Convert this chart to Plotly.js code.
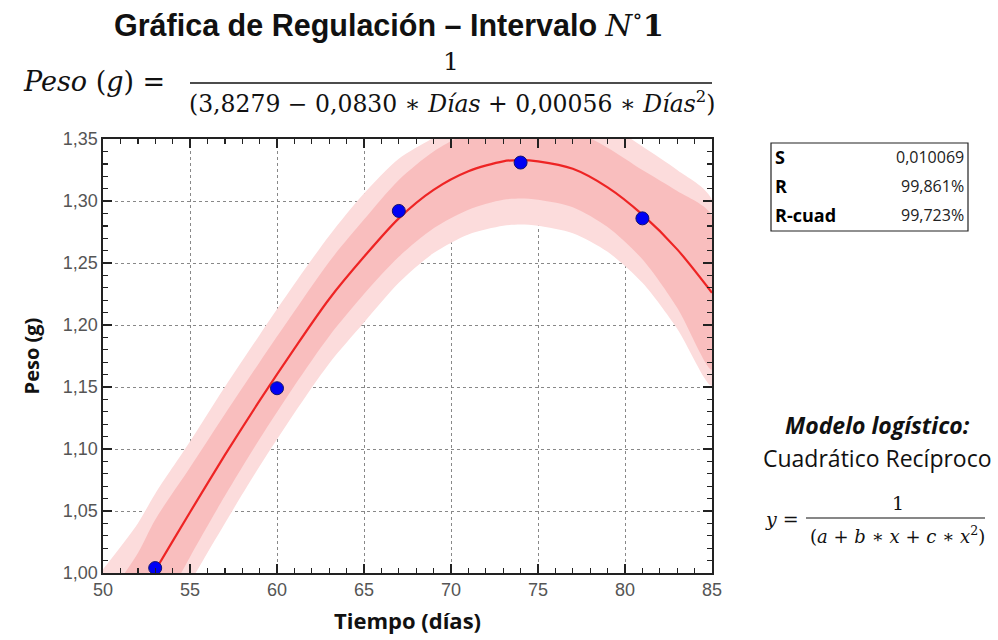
<!DOCTYPE html>
<html><head><meta charset="utf-8">
<script src="https://cdn.plot.ly/plotly-3.0.1.min.js"></script>
<style>html,body{margin:0;padding:0;background:#fff;} #chart{width:998px;height:640px;}</style>
</head><body><div id="chart"></div>
<script>
// Observed data
const days = [53, 60, 67, 74, 81];
const peso = [1.004, 1.149, 1.292, 1.331, 1.286];

// Fitted curve and interval bands
const fitX = [50, 52, 53, 55, 57, 59, 61, 63, 65, 67, 69, 71, 73, 74, 75, 77, 79, 81, 83, 85];
const fitY = [0.931, 0.978, 1.002, 1.049, 1.095, 1.139, 1.181, 1.221, 1.255, 1.286, 1.309, 1.324, 1.332, 1.333, 1.332, 1.326, 1.311, 1.289, 1.261, 1.226];
const predUpper = [1.003, 1.040, 1.064, 1.106, 1.150, 1.192, 1.233, 1.272, 1.306, 1.334, 1.351, 1.366, 1.378, 1.381, 1.381, 1.376, 1.362, 1.344, 1.325, 1.301];
const confUpper = [0.975, 1.016, 1.043, 1.085, 1.128, 1.170, 1.211, 1.251, 1.285, 1.317, 1.340, 1.355, 1.363, 1.364, 1.363, 1.357, 1.343, 1.325, 1.308, 1.288];
const confLower = [0.879, 0.934, 0.961, 1.013, 1.062, 1.108, 1.151, 1.191, 1.225, 1.255, 1.278, 1.293, 1.301, 1.302, 1.301, 1.295, 1.279, 1.253, 1.214, 1.164];
const predLower = [0.853, 0.912, 0.940, 0.992, 1.040, 1.086, 1.129, 1.169, 1.202, 1.234, 1.258, 1.273, 1.280, 1.281, 1.280, 1.274, 1.259, 1.234, 1.197, 1.151];

// Text
const titleText = '<b>Gráfica de Regulación – Intervalo </b><span style="font-family:DejaVu Serif"><i>N</i><sup>∘</sup><b>1</b></span>';
const statLabels = ['S', 'R', 'R-cuad'];
const statValues = ['0,010069', '99,861%', '99,723%'];

// layout geometry (plot area in pixels)
const PL = 103, PR = 712, PT = 139, PB = 573;
const px = x => (x - PL) / (PR - PL);
const py = y => (PB - y) / (PB - PT);

const band = (lo, hi, color) => ({
  x: fitX.concat(fitX.slice().reverse()),
  y: hi.concat(lo.slice().reverse()),
  type: 'scatter', mode: 'lines', fill: 'toself', fillcolor: color,
  line: {width: 0, shape: 'spline', smoothing: 0.8}, hoverinfo: 'skip', showlegend: false
});

const traces = [
  band(predLower, predUpper, 'rgb(252,220,220)'),
  band(confLower, confUpper, 'rgb(249,190,190)'),
  {x: fitX, y: fitY, type: 'scatter', mode: 'lines',
   line: {color: 'rgb(238,36,36)', width: 2.2, shape: 'spline', smoothing: 0.8}, showlegend: false},
  {x: days, y: peso, type: 'scatter', mode: 'markers', cliponaxis: false,
   marker: {color: 'rgb(0,0,245)', size: 13, line: {color: 'rgb(20,20,110)', width: 1}}, showlegend: false}
];

const serif = 'DejaVu Serif, Liberation Serif, serif';
const sans = 'Liberation Sans, Arial, sans-serif';
const cal = 'Open Sans, Noto Sans, sans-serif';

const ann = [
  {text: titleText, x: px(389), y: py(23), font: {family: sans, size: 30.5, color: '#111'}},
  {text: '<i>Peso</i> (<i>g</i>) =', x: px(94), y: py(82), font: {family: serif, size: 27, color: '#111'}},
  {text: '1', x: px(451), y: py(61), font: {family: serif, size: 25, color: '#111'}},
  {text: '(3,8279 − 0,0830 ∗ <i>Días</i> + 0,00056 ∗ <i>Días</i><sup>2</sup>)', x: px(452), y: py(102), font: {family: serif, size: 23.5, color: '#111'}},
  {text: '<b><i>Modelo logístico:</i></b>', x: px(877), y: py(425), font: {family: cal, size: 23, color: '#111'}},
  {text: 'Cuadrático Recíproco', x: px(877), y: py(458), font: {family: cal, size: 23, color: '#111'}},
  {text: '<i>y</i> =', x: px(782), y: py(519), font: {family: serif, size: 19, color: '#111'}},
  {text: '1', x: px(898), y: py(503), font: {family: serif, size: 19, color: '#111'}},
  {text: '(<i>a</i> + <i>b</i> ∗ <i>x</i> + <i>c</i> ∗ <i>x</i><sup>2</sup>)', x: px(897), y: py(535), font: {family: serif, size: 18, color: '#111'}}
];
const rowY = [157, 186, 215];
statLabels.forEach((t, i) => {
  ann.push({text: '<b>' + t + '</b>', x: px(773), y: py(rowY[i]), xanchor: 'left', font: {family: cal, size: 18, color: '#000'}});
  ann.push({text: statValues[i], x: px(966), y: py(rowY[i]), xanchor: 'right', font: {family: cal, size: 16, color: '#222'}});
});
ann.forEach(a => { a.xref = 'paper'; a.yref = 'paper'; a.showarrow = false; if (!a.xanchor) a.xanchor = 'center'; a.yanchor = 'middle'; });

const shapes = [
  {type: 'line', xref: 'paper', yref: 'paper', x0: px(190), x1: px(712), y0: py(83), y1: py(83), line: {color: '#111', width: 1.4}},
  {type: 'line', xref: 'paper', yref: 'paper', x0: px(806), x1: px(985), y0: py(518), y1: py(518), line: {color: '#111', width: 1.2}},
  {type: 'rect', xref: 'paper', yref: 'paper', x0: px(771), x1: px(968), y0: py(143), y1: py(231), line: {color: '#222', width: 1.2}}
];

const axisCommon = {
  showline: true, linecolor: '#222', linewidth: 1.6, mirror: 'ticks',
  ticks: 'inside', ticklen: 9, tickwidth: 1.4, tickcolor: '#222',
  showgrid: true, gridcolor: '#888', gridwidth: 1, griddash: 'dot',
  zeroline: false,
  tickfont: {family: sans, size: 18, color: '#555'}
};

const layout = {
  width: 998, height: 640,
  margin: {l: PL, r: 998 - PR, t: PT, b: 640 - PB, pad: 0},
  paper_bgcolor: '#fff', plot_bgcolor: '#fff',
  separators: ',.',
  showlegend: false,
  xaxis: Object.assign({}, axisCommon, {
    range: [50, 85], dtick: 5, tick0: 50,
    minor: {dtick: 1, ticks: 'inside', ticklen: 5, tickcolor: '#222', showgrid: false},
    title: {text: '<b>Tiempo (días)</b>', font: {family: cal, size: 22, color: '#111'}, standoff: 14}
  }),
  yaxis: Object.assign({}, axisCommon, {
    range: [1.0, 1.35], dtick: 0.05, tick0: 1.0, tickformat: '.2f',
    minor: {dtick: 0.01, ticks: 'inside', ticklen: 5, tickcolor: '#222', showgrid: false},
    title: {text: '<b>Peso (g)</b>', font: {family: cal, size: 20, color: '#111'}, standoff: 18}
  }),
  annotations: ann,
  shapes: shapes
};

Plotly.newPlot('chart', traces, layout, {displayModeBar: false, staticPlot: true});
</script></body></html>
